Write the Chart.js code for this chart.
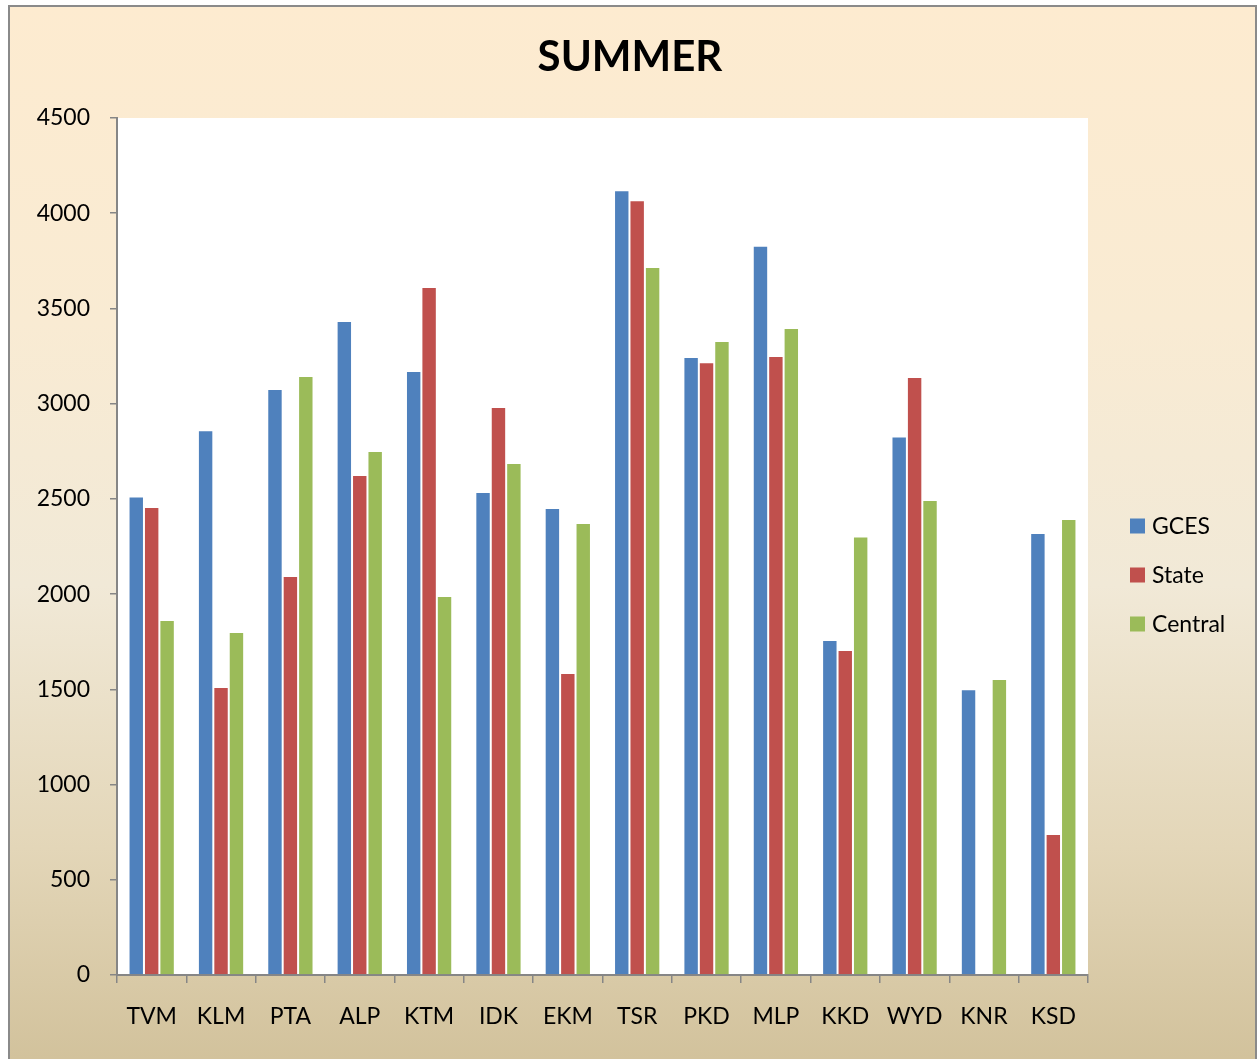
<!DOCTYPE html>
<html>
<head>
<meta charset="utf-8">
<script src="https://cdn.jsdelivr.net/npm/chart.js@4.4.1/dist/chart.umd.min.js"></script>
<style>
  html, body { margin: 0; padding: 0; background: #fff; overflow: hidden; }
  #summerChart { display: block; }
</style>
</head>
<body>
<canvas id="summerChart" width="1260" height="1059"></canvas>
<script>
const districts = ["TVM", "KLM", "PTA", "ALP", "KTM", "IDK", "EKM", "TSR", "PKD", "MLP", "KKD", "WYD", "KNR", "KSD"];
const gces = [2512, 2861, 3077, 3434, 3171, 2536, 2452, 4121, 3245, 3829, 1759, 2827, 1500, 2321];
const state = [2457, 1512, 2095, 2625, 3612, 2982, 1586, 4068, 3218, 3250, 1706, 3140, 0, 740];
const central = [1864, 1801, 3145, 2751, 1990, 2688, 2373, 3717, 3329, 3397, 2302, 2494, 1554, 2394];
const yTicks = [0, 500, 1000, 1500, 2000, 2500, 3000, 3500, 4000, 4500];

const FONT = "Lato, 'Open Sans', sans-serif";
const AXIS_GREY = "#868686";

// frame, gradient fill and white plot area
const backdrop = {
    id: "backdrop",
    beforeDraw(chart) {
        const ctx = chart.ctx;
        const w = chart.width, h = chart.height;
        ctx.save();
        ctx.fillStyle = "#ffffff";
        ctx.fillRect(0, 0, w, h);
        const g = ctx.createLinearGradient(0, 6, 0, h);
        g.addColorStop(0, "#fdebd0");
        g.addColorStop(0.3, "#f9ebd3");
        g.addColorStop(0.55, "#f1e9d7");
        g.addColorStop(0.8, "#e3d6b8");
        g.addColorStop(1, "#d2c29c");
        ctx.fillStyle = g;
        ctx.fillRect(9, 6, w - 13, h - 6);
        ctx.strokeStyle = "#8a8a8a";
        ctx.lineWidth = 2;
        ctx.strokeRect(9, 6, w - 13, h - 4);
        const a = chart.chartArea;
        ctx.fillStyle = "#ffffff";
        ctx.fillRect(a.left, a.top, a.right - a.left, a.bottom - a.top);
        ctx.restore();
    },
};

// legend drawn beside the plot, Excel style
const sideLegend = {
    id: "sideLegend",
    afterDraw(chart) {
        const ctx = chart.ctx;
        const a = chart.chartArea;
        ctx.save();
        ctx.font = "23px " + FONT;
        ctx.textBaseline = "middle";
        ctx.textAlign = "left";
        chart.data.datasets.forEach((ds, i) => {
            const cy = a.top + 408 + i * 49;
            ctx.fillStyle = ds.backgroundColor;
            ctx.fillRect(a.right + 42, cy - 7.5, 15, 15);
            ctx.fillStyle = "#000000";
            ctx.fillText(ds.label, a.right + 64, cy + 1);
        });
        ctx.restore();
    },
};

const data = {
    labels: districts,
    datasets: [
        { label: "GCES", data: gces, backgroundColor: "#4f81bd" },
        { label: "State", data: state, backgroundColor: "#c0504d" },
        { label: "Central", data: central, backgroundColor: "#9bbb59" },
    ],
};

const config = {
    type: "bar",
    data: data,
    options: {
        responsive: false,
        animation: false,
        devicePixelRatio: 1,
        layout: { padding: 0 },
        datasets: {
            bar: {
                categoryPercentage: 0.667,
                barPercentage: 1,
                borderWidth: 1,
                borderColor: "rgba(255,255,255,0.35)",
            },
        },
        scales: {
            x: {
                grid: {
                    offset: true,
                    drawOnChartArea: false,
                    drawTicks: true,
                    tickLength: 8,
                    tickColor: AXIS_GREY,
                    lineWidth: 1.5,
                },
                border: { display: true, color: AXIS_GREY, width: 2 },
                ticks: {
                    color: "#000000",
                    font: { family: FONT, size: 23 },
                    padding: 20,
                    maxRotation: 0,
                },
                afterFit(s) { s.height = 84; },
            },
            y: {
                min: 0,
                max: 4500,
                afterBuildTicks(s) { s.ticks = yTicks.map(v => ({ value: v })); },
                grid: {
                    drawOnChartArea: false,
                    drawTicks: true,
                    tickLength: 7,
                    tickColor: AXIS_GREY,
                    lineWidth: 1.5,
                },
                border: { display: true, color: AXIS_GREY, width: 2 },
                ticks: {
                    color: "#000000",
                    font: { family: FONT, size: 23 },
                    padding: 20,
                    callback: (v) => String(v),
                },
                afterFit(s) { s.width = 117; },
            },
            room: {
                position: "right",
                display: true,
                grid: { display: false },
                border: { display: false },
                ticks: { display: false },
                afterFit(s) { s.width = 172; },
            },
        },
        plugins: {
            legend: { display: false },
            tooltip: { enabled: false },
            title: {
                display: true,
                text: "SUMMER",
                color: "#000000",
                font: { family: FONT, size: 42, weight: "bold" },
                padding: { top: 32, bottom: 35.6 },
            },
        },
    },
    plugins: [backdrop, sideLegend],
};

new Chart(document.getElementById("summerChart"), config);
</script>
</body>
</html>
